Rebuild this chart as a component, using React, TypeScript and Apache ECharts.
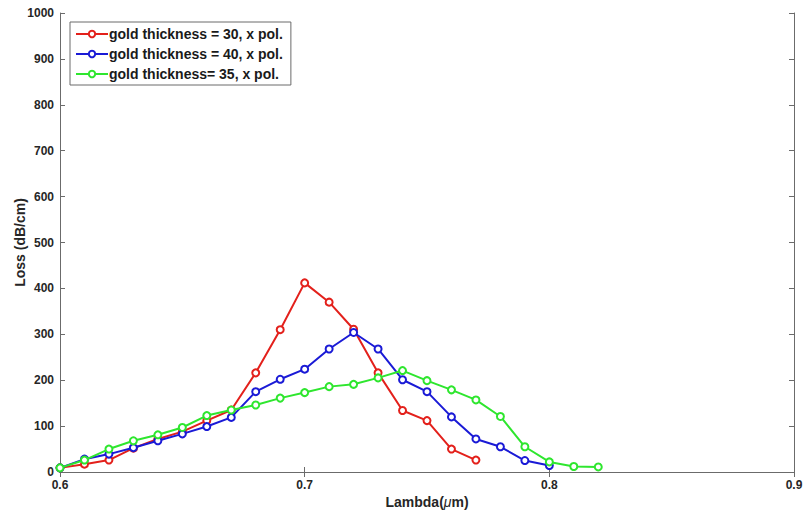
import React, { useEffect, useRef } from "react";
import * as echarts from "echarts";

const lambdaRed = [0.6, 0.61, 0.62, 0.63, 0.64, 0.65, 0.66, 0.67, 0.68, 0.69, 0.7, 0.71, 0.72, 0.73, 0.74, 0.75, 0.76, 0.77];
const lossRed = [9, 17, 26, 52, 72, 88, 112, 135, 216, 310, 412, 370, 311, 216, 134, 112, 50, 26];

const lambdaBlue = [0.6, 0.61, 0.62, 0.63, 0.64, 0.65, 0.66, 0.67, 0.68, 0.69, 0.7, 0.71, 0.72, 0.73, 0.74, 0.75, 0.76, 0.77, 0.78, 0.79, 0.8];
const lossBlue = [9, 28, 39, 53, 68, 83, 99, 119, 175, 202, 224, 268, 304, 268, 201, 175, 120, 72, 55, 25, 14];

const lambdaGreen = [0.6, 0.61, 0.62, 0.63, 0.64, 0.65, 0.66, 0.67, 0.68, 0.69, 0.7, 0.71, 0.72, 0.73, 0.74, 0.75, 0.76, 0.77, 0.78, 0.79, 0.8, 0.81, 0.82];
const lossGreen = [9, 26, 50, 68, 81, 97, 123, 135, 146, 161, 173, 186, 191, 205, 221, 199, 179, 157, 121, 55, 22, 12, 11];

const seriesNames = ["gold thickness = 30, x pol.", "gold thickness = 40, x pol.", "gold thickness= 35, x pol."];
const seriesColors = ["#e3201b", "#1a1ad6", "#2ee62e"];

const xTicks = [0.6, 0.7, 0.8, 0.9];

const FONT = "'Liberation Sans', Arial, Helvetica, sans-serif";

export default function App() {
  const ref = useRef<HTMLDivElement>(null);
  useEffect(() => {
    if (!ref.current) return;
    const chart = echarts.init(ref.current, null, { renderer: "svg" });
    const pairs = [
      [lambdaRed, lossRed],
      [lambdaBlue, lossBlue],
      [lambdaGreen, lossGreen],
    ];
    const axisLine = { show: true, lineStyle: { color: "#6b6b6b", width: 1 } };
    const axisTick = { show: true, inside: true, length: 5, lineStyle: { color: "#6b6b6b" } };
    const axisLabel = { color: "#262626", fontFamily: FONT, fontWeight: "bold", fontSize: 12 };
    chart.setOption({
      animation: false,
      backgroundColor: "#ffffff",
      grid: { left: 60, right: 11, top: 13, bottom: 40, containLabel: false, outerBoundsMode: "none" },
      legend: {
        left: 70,
        top: 22,
        orient: "vertical",
        data: seriesNames,
        itemWidth: 32,
        itemHeight: 8,
        itemGap: 4,
        padding: [4, 8, 3, 5],
        borderColor: "#6b6b6b",
        borderWidth: 1,
        backgroundColor: "#ffffff",
        textStyle: { color: "#1a1a1a", fontFamily: FONT, fontWeight: "bold", fontSize: 14, padding: [0, 0, 0, -4], lineHeight: 16 },
      },
      xAxis: [
        {
          type: "value",
          min: 0.6,
          max: 0.9,
          interval: 0.1,
          name: "Lambda({mu|\u03bc}m)",
          nameLocation: "middle",
          nameGap: 23,
          nameMoveOverlap: false,
          nameTextStyle: {
            color: "#262626",
            fontFamily: FONT,
            fontWeight: "bold",
            fontSize: 14,
            rich: {
              mu: { color: "#262626", fontFamily: FONT, fontStyle: "italic", fontWeight: "normal", fontSize: 14 },
            },
          },
          axisLine,
          axisTick,
          axisLabel: { ...axisLabel, margin: 7, formatter: (v: number) => (xTicks.some((t) => Math.abs(t - v) < 1e-6) ? String(Math.round(v * 10) / 10) : "") },
          splitLine: { show: false },
        },
        {
          type: "value",
          position: "top",
          min: 0.6,
          max: 0.9,
          interval: 0.1,
          axisLine,
          axisTick,
          axisLabel: { show: false },
          splitLine: { show: false },
        },
      ],
      yAxis: [
        {
          type: "value",
          min: 0,
          max: 1000,
          interval: 100,
          name: "Loss (dB/cm)",
          nameLocation: "middle",
          nameGap: 33,
          nameMoveOverlap: false,
          nameTextStyle: { color: "#262626", fontFamily: FONT, fontWeight: "bold", fontSize: 14 },
          axisLine,
          axisTick,
          axisLabel: { ...axisLabel, margin: 6, formatter: (v: number) => String(v) },
          splitLine: { show: false },
        },
        {
          type: "value",
          position: "right",
          min: 0,
          max: 1000,
          interval: 100,
          axisLine,
          axisTick,
          axisLabel: { show: false },
          splitLine: { show: false },
        },
      ],
      series: pairs.map(([xs, ys], i) => ({
        name: seriesNames[i],
        type: "line",
        xAxisIndex: 0,
        yAxisIndex: 0,
        data: xs.map((x, j) => [x, ys[j]]),
        symbol: "emptyCircle",
        symbolSize: 7,
        showSymbol: true,
        color: seriesColors[i],
        lineStyle: { color: seriesColors[i], width: 2 },
        itemStyle: { color: seriesColors[i], borderColor: seriesColors[i], borderWidth: 1.5 },
        z: i === 2 ? 3 : i === 1 ? 2 : 1,
      })),
    });
    return () => chart.dispose();
  }, []);
  return <div ref={ref} style={{ width: 805, height: 512, position: "absolute", left: 0, top: 0 }} />;
}
